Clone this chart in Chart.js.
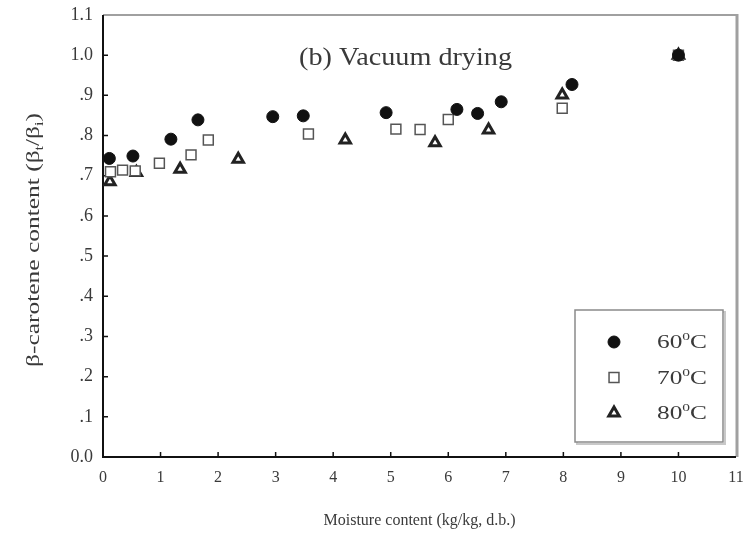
<!DOCTYPE html>
<html><head><meta charset="utf-8">
<script src="https://cdn.jsdelivr.net/npm/chart.js@4/dist/chart.umd.min.js"></script>
<style>html,body{margin:0;padding:0;background:#fff}</style>
</head><body>
<canvas id="c" width="749" height="539"></canvas>
<script>
// ---- data ----
const moisture60 = [0.11, 0.52, 1.18, 1.65, 2.95, 3.48, 4.92, 6.15, 6.51, 6.92, 8.15, 10.0];
const beta60     = [0.743, 0.749, 0.791, 0.839, 0.847, 0.849, 0.857, 0.865, 0.855, 0.884, 0.927, 1.0];
const moisture70 = [0.13, 0.34, 0.56, 0.98, 1.53, 1.83, 3.57, 5.09, 5.51, 6.00, 7.98, 10.0];
const beta70     = [0.710, 0.714, 0.712, 0.731, 0.752, 0.789, 0.804, 0.816, 0.815, 0.840, 0.868, 1.0];
const moisture80 = [0.12, 0.58, 1.34, 2.35, 4.21, 5.77, 6.70, 7.98, 10.0];
const beta80     = [0.685, 0.708, 0.716, 0.741, 0.789, 0.782, 0.814, 0.901, 1.0];
const seriesNames = ['60', '70', '80'];
const xTickLabels = ['0','1','2','3','4','5','6','7','8','9','10','11'];
const yTickLabels = ['0.0','.1','.2','.3','.4','.5','.6','.7','.8','.9','1.0','1.1'];
const xTitle = 'Moisture content (kg/kg, d.b.)';
const yTitleParts = [['β-carotene content (β', 0], ['t', 1], ['/β', 0], ['i', 1], [')', 0]];
const panelLabel = '(b) Vacuum drying';

const FONT = '"Liberation Serif", "Times New Roman", serif';
const TXT = '#3a3a3a';

const toPts = (xs, ys) => xs.map((v, i) => ({x: v, y: ys[i]}));

function partsWidth(ctx, parts, size) {
  let w = 0;
  parts.forEach(([t, k]) => { ctx.font = (k ? Math.round(size * 0.62) : size) + 'px ' + FONT; w += ctx.measureText(t).width; });
  return w;
}
function drawParts(ctx, parts, size, x0, base) {
  let x = x0;
  parts.forEach(([t, k]) => {
    ctx.font = (k ? Math.round(size * 0.62) : size) + 'px ' + FONT;
    const dy = k === 1 ? size * 0.22 : (k === 2 ? -size * 0.42 : 0);
    ctx.fillText(t, x, base + dy);
    x += ctx.measureText(t).width;
  });
}

const framePlugin = {
  id: 'frame',
  beforeDatasetsDraw(chart) {
    const {ctx, chartArea: a, scales: {x, y}} = chart;
    ctx.save();
    ctx.strokeStyle = '#a0a0a0';
    ctx.lineWidth = 2;
    ctx.beginPath(); ctx.moveTo(a.left, a.top); ctx.lineTo(a.right, a.top); ctx.stroke();
    ctx.lineWidth = 3;
    ctx.beginPath(); ctx.moveTo(a.right + 1, a.top - 1); ctx.lineTo(a.right + 1, a.bottom); ctx.stroke();
    ctx.strokeStyle = '#111';
    ctx.lineWidth = 2;
    ctx.beginPath(); ctx.moveTo(a.left, a.top); ctx.lineTo(a.left, a.bottom); ctx.lineTo(a.right, a.bottom); ctx.stroke();
    ctx.lineWidth = 1.5;
    ctx.beginPath();
    x.ticks.forEach(t => {
      if (t.value > x.min && t.value < x.max) {
        const px = x.getPixelForValue(t.value);
        ctx.moveTo(px, a.bottom); ctx.lineTo(px, a.bottom - 5);
      }
    });
    y.ticks.forEach(t => {
      if (t.value > y.min + 1e-6 && t.value < y.max - 1e-6) {
        const py = y.getPixelForValue(t.value);
        ctx.moveTo(a.left, py); ctx.lineTo(a.left + 5, py);
      }
    });
    ctx.stroke();
    ctx.fillStyle = TXT;
    ctx.textBaseline = 'alphabetic';
    ctx.textAlign = 'left';
    // panel label
    ctx.font = '25px ' + FONT;
    const pw = ctx.measureText(panelLabel).width;
    ctx.save();
    ctx.translate(a.left + 196, a.top + 50);
    ctx.scale(213 / pw, 1);
    ctx.fillText(panelLabel, 0, 0);
    ctx.restore();
    // y axis title
    const yw = partsWidth(ctx, yTitleParts, 19);
    ctx.save();
    ctx.translate(39, (a.top + a.bottom) / 2 + 4);
    ctx.rotate(-Math.PI / 2);
    ctx.scale(254 / yw, 1);
    drawParts(ctx, yTitleParts, 19, -yw / 2, 0);
    ctx.restore();
    ctx.restore();
  },
  afterDatasetsDraw(chart) {
    const {ctx, chartArea: a} = chart;
    ctx.save();
    const bx = a.left + 472, by = a.top + 295, bw = 148, bh = 132;
    ctx.strokeStyle = '#c8c8c8'; ctx.lineWidth = 2;
    ctx.strokeRect(bx + 2, by + 2, bw, bh);
    ctx.fillStyle = '#fff'; ctx.fillRect(bx, by, bw, bh);
    ctx.strokeStyle = '#8a8a8a'; ctx.lineWidth = 1.5;
    ctx.strokeRect(bx, by, bw, bh);
    chart.data.datasets.forEach((ds, i) => {
      const my = by + 32 + i * 35.5;
      const mx = bx + 39;
      ctx.save();
      ctx.fillStyle = ds.backgroundColor;
      ctx.strokeStyle = ds.borderColor;
      ctx.lineWidth = ds.borderWidth;
      Chart.helpers.drawPoint(ctx, {pointStyle: ds.pointStyle, radius: ds.pointRadius, rotation: 0, borderWidth: ds.borderWidth}, mx, my);
      ctx.restore();
      ctx.fillStyle = TXT;
      ctx.textBaseline = 'alphabetic';
      ctx.textAlign = 'left';
      const parts = [[seriesNames[i], 0], ['0', 2], ['C', 0]];
      const w = partsWidth(ctx, parts, 18);
      ctx.save();
      ctx.translate(bx + 82, my + 6);
      ctx.scale(50 / w, 1);
      drawParts(ctx, parts, 18, 0, 0);
      ctx.restore();
    });
    ctx.restore();
  }
};

const noPad = s => { s.paddingTop = 0; s.paddingBottom = 0; s.paddingLeft = 0; s.paddingRight = 0; };

new Chart(document.getElementById('c'), {
  type: 'scatter',
  data: {
    datasets: [
      {label: '60°C', data: toPts(moisture60, beta60), pointStyle: 'circle', pointRadius: 6,
       backgroundColor: '#111', borderColor: '#111', borderWidth: 1},
      {label: '70°C', data: toPts(moisture70, beta70), pointStyle: 'rect', pointRadius: 7,
       backgroundColor: '#fff', borderColor: '#555', borderWidth: 1.5},
      {label: '80°C', data: toPts(moisture80, beta80), pointStyle: 'triangle', pointRadius: 6,
       backgroundColor: '#fff', borderColor: '#222', borderWidth: 3}
    ]
  },
  options: {
    responsive: false,
    animation: false,
    layout: {padding: {top: 15, right: 13, left: 0, bottom: 0}},
    plugins: {legend: {display: false}, tooltip: {enabled: false}},
    scales: {
      x: {
        type: 'linear', min: 0, max: 11,
        grid: {display: false, drawTicks: false},
        border: {display: false},
        ticks: {stepSize: 1, padding: 11, color: TXT, font: {family: FONT, size: 16},
                callback: (v, i) => xTickLabels[i]},
        title: {display: true, text: xTitle, color: TXT, font: {family: FONT, size: 16},
                padding: {top: 0, bottom: 9}},
        afterFit: s => { s.height = 82; noPad(s); }
      },
      y: {
        type: 'linear', min: 0, max: 1.1,
        grid: {display: false, drawTicks: false},
        border: {display: false},
        ticks: {stepSize: 0.1, padding: 10, color: TXT, font: {family: FONT, size: 18},
                callback: (v, i) => yTickLabels[i]},
        title: {display: false},
        afterFit: s => { s.width = 103; noPad(s); }
      }
    }
  },
  plugins: [framePlugin]
});
</script>
</body></html>
